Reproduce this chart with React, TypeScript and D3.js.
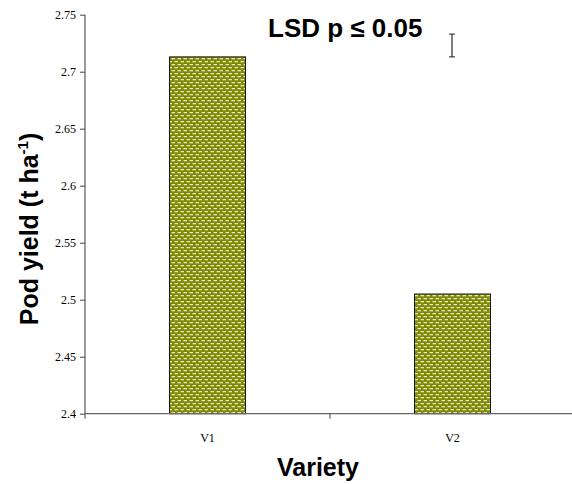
import React, { useEffect, useRef } from 'react';
import * as d3 from 'd3';

const varieties = ['V1', 'V2'];
const podYield = [2.713, 2.505];
const yTicks = [2.4, 2.45, 2.5, 2.55, 2.6, 2.65, 2.7, 2.75];
const lsdValue = 0.02;
const lsdCenter = 2.723;

const App = () => {
  const ref = useRef<SVGSVGElement>(null);

  useEffect(() => {
    const svg = d3.select(ref.current);
    svg.selectAll('*').remove();

    const left = 85;
    const right = 575;
    const top = 14.7;
    const bottom = 413.7;
    const serif = '"Liberation Serif", "Times New Roman", serif';
    const sans = '"Liberation Sans", Arial, sans-serif';

    const x = d3.scaleBand().domain(varieties).range([left, right]).paddingInner(0).paddingOuter(0);
    const y = d3.scaleLinear().domain([2.4, 2.75]).range([bottom, top]);

    // brick-like pattern for bars
    const defs = svg.append('defs');
    const pat = defs.append('pattern')
      .attr('id', 'brick')
      .attr('patternUnits', 'userSpaceOnUse')
      .attr('width', 6)
      .attr('height', 6);
    pat.append('rect').attr('width', 6).attr('height', 6).attr('fill', '#7f8a00');
    pat.append('rect').attr('x', 0.5).attr('y', 1).attr('width', 3.5).attr('height', 1.3).attr('fill', '#e8e4cc');
    pat.append('rect').attr('x', 3.5).attr('y', 4).attr('width', 3.5).attr('height', 1.3).attr('fill', '#e8e4cc');
    pat.append('rect').attr('x', -2.5).attr('y', 4).attr('width', 3.5).attr('height', 1.3).attr('fill', '#e8e4cc');

    const barW = 76;
    svg.selectAll('rect.bar')
      .data(varieties)
      .join('rect')
      .attr('class', 'bar')
      .attr('x', (d) => x(d)! + x.bandwidth() / 2 - barW / 2)
      .attr('y', (_, i) => y(podYield[i]))
      .attr('width', barW)
      .attr('height', (_, i) => bottom - y(podYield[i]))
      .attr('fill', 'url(#brick)')
      .attr('stroke', '#1a1a1a')
      .attr('stroke-width', 1);

    // y axis
    const yAxis = svg.append('g')
      .attr('transform', `translate(${left},0)`)
      .call(d3.axisLeft(y).tickValues(yTicks).tickSize(5).tickPadding(4).tickFormat((d) => String(d)));
    yAxis.attr('font-family', serif);
    yAxis.select('.domain').attr('stroke', '#666').attr('stroke-width', 1.3).attr('d', `M0,${top}V${bottom}`);
    yAxis.selectAll('.tick line').attr('stroke', '#444');
    yAxis.selectAll('.tick text')
      .style('font-family', serif)
      .attr('font-size', 12)
      .attr('fill', '#000');

    // x axis with ticks between categories
    const xg = svg.append('g').attr('transform', `translate(0,${bottom})`);
    xg.append('line').attr('x1', left).attr('x2', right).attr('stroke', '#666').attr('stroke-width', 1.3);
    const bounds = [left, ...varieties.map((d) => x(d)! + x.bandwidth())];
    xg.selectAll('line.tk')
      .data(bounds)
      .join('line')
      .attr('class', 'tk')
      .attr('x1', (d) => d)
      .attr('x2', (d) => d)
      .attr('y1', 0)
      .attr('y2', 5)
      .attr('stroke', '#444');
    xg.selectAll('text')
      .data(varieties)
      .join('text')
      .attr('x', (d) => x(d)! + x.bandwidth() / 2)
      .attr('y', 28)
      .attr('text-anchor', 'middle')
      .style('font-family', serif)
      .attr('font-size', 12)
      .text((d) => d);

    // LSD error bar above V2
    const ex = x('V2')! + x.bandwidth() / 2 - 0.5;
    const eg = svg.append('g').attr('stroke', '#222').attr('stroke-width', 1);
    eg.append('line').attr('x1', ex).attr('x2', ex).attr('y1', y(lsdCenter + lsdValue / 2)).attr('y2', y(lsdCenter - lsdValue / 2)).attr('stroke', '#555').attr('stroke-width', 1.5);
    eg.append('line').attr('x1', ex - 3).attr('x2', ex + 3).attr('y1', y(lsdCenter + lsdValue / 2)).attr('y2', y(lsdCenter + lsdValue / 2));
    eg.append('line').attr('x1', ex - 3).attr('x2', ex + 3).attr('y1', y(lsdCenter - lsdValue / 2)).attr('y2', y(lsdCenter - lsdValue / 2));

    svg.append('text')
      .attr('x', 268)
      .attr('y', 37)
      .style('font-family', sans)
      .attr('font-weight', 'bold')
      .attr('font-size', 26)
      .text('LSD p ≤ 0.05');

    // axis titles
    const yl = svg.append('text')
      .attr('transform', `translate(38,229) rotate(-90)`)
      .attr('text-anchor', 'middle')
      .style('font-family', sans)
      .attr('font-weight', 'bold')
      .attr('font-size', 25);
    yl.append('tspan').text('Pod yield (t ha');
    yl.append('tspan').attr('font-size', 15).attr('dy', -10).text('-1');
    yl.append('tspan').attr('dy', 10).text(')');

    svg.append('text')
      .attr('x', 318)
      .attr('y', 476)
      .attr('text-anchor', 'middle')
      .style('font-family', sans)
      .attr('font-weight', 'bold')
      .attr('font-size', 25)
      .text('Variety');
  }, []);

  return (
    <svg
      ref={ref}
      width={572}
      height={484}
      style={{ position: 'absolute', left: 0, top: 0, background: '#fff' }}
    />
  );
};

export default App;
